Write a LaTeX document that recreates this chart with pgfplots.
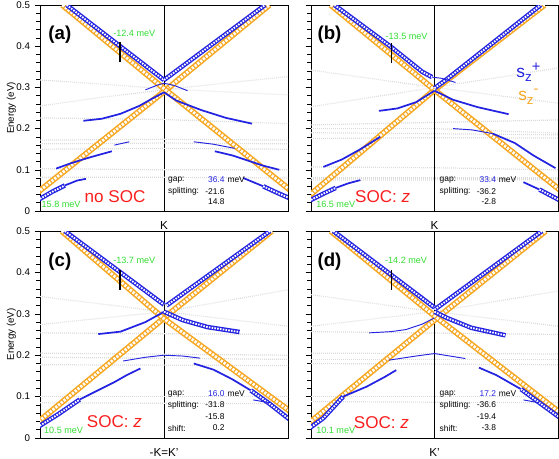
\documentclass[border=0pt]{standalone}
\usepackage{pgfplots}
\pgfplotsset{compat=1.18}
\usepackage{fontspec}
\setmainfont{Liberation Sans}
\definecolor{orng}{RGB}{247,168,35}
\definecolor{bblue}{RGB}{35,35,225}
\definecolor{grn}{RGB}{50,220,50}
\definecolor{rd}{RGB}{250,30,30}
\definecolor{gryband}{RGB}{218,218,218}
\newcommand{\smallt}{\fontsize{6.3}{7}\selectfont}
\newcommand{\greenf}{\fontsize{6.8}{7}\selectfont}
\newcommand{\socf}{\fontsize{12.8}{13}\selectfont}
\newcommand{\lblf}{\fontsize{14}{14}\selectfont\bfseries}
\tikzset{
 lbl/.style={font=\lblf},
 grt/.style={font=\greenf, text=grn},
 soct/.style={font=\socf, text=rd},
}
\pgfplotsset{
 panel/.style={scale only axis, width=186pt, height=154.5pt, xmin=-1, xmax=1, ymin=0, ymax=0.5,
   xtick={0}, major x tick style={draw=none},
   x tick label style={font=\fontsize{8.7}{9}\selectfont},
   ytick={0,0.1,0.2,0.3,0.4,0.5}, minor y tick num=4, ytick pos=left, tick align=outside,
   major tick length=4pt, minor tick length=3pt,
   /pgf/number format/assume math mode=true, /pgf/number format/fixed,
   y tick label style={font=\fontsize{7.3}{8}\selectfont},
   axis line style={line width=0.6pt}, tick style={line width=0.45pt, black},
   anchor=south west,
   every axis y label/.style={at={(axis description cs:-0.115,0.5)}, anchor=center, rotate=90, font=\fontsize{7.3}{8}\selectfont}},
 oring/.style={draw=orng, line width=4.4pt, postaction={draw=white, line width=2.1pt, dash pattern=on 1.7pt off 1.0pt}},
 bring/.style={draw=bblue, line width=3.4pt, postaction={draw=white, line width=1.4pt, dash pattern=on 1.2pt off 0.9pt}},
 bmed/.style={draw=bblue, line width=1.3pt},
 bthin/.style={draw=bblue, line width=0.7pt},
 gb/.style={draw=gryband, line width=0.9pt, dash pattern=on 0.6pt off 0.9pt},
 kline/.style={draw=black, line width=0.6pt},
}
\begin{document}
\begin{tikzpicture}
\useasboundingbox (0,0) rectangle (419.25pt,343.5pt);
% ---------------- (a)
\begin{axis}[panel, at={(30pt,185.25pt)}, xticklabels={K}, ylabel={Energy (eV)}]
\addplot[kline] coordinates {(0,0) (0,0.5)};
\addplot[gb] coordinates {(-1,0.318) (-0.5,0.308) (0,0.297) (0.5,0.289) (1,0.282)};
\addplot[gb] coordinates {(-1,0.255) (-0.5,0.276) (0,0.294) (0.5,0.311) (1,0.326)};
\addplot[gb] coordinates {(-1,0.226) (0,0.222) (1,0.212)};
\addplot[gb] coordinates {(-1,0.172) (0,0.174) (1,0.172)};
\addplot[gb] coordinates {(-1,0.163) (0,0.165) (1,0.163)};
\addplot[gb] coordinates {(-1,0.150) (0,0.152) (1,0.150)};
\addplot[gb] coordinates {(-1,0.103) (0,0.100) (1,0.100)};
\addplot[gb] coordinates {(-1,0.082) (0,0.082) (1,0.080)};
\addplot[oring] coordinates {(-1.02,0.045) (0,0.290) (0.85,0.5)};
\addplot[oring] coordinates {(-0.82,0.5) (0,0.297) (1.02,0.05)};
\addplot[bring] coordinates {(-0.785,0.5) (0,0.318)};
\addplot[bring] coordinates {(0,0.318) (0.815,0.5)};
\addplot[bthin] coordinates {(-0.15,0.294) (-0.05,0.306) (0,0.31) (0.08,0.305) (0.19,0.292)};
\addplot[bmed] coordinates {(-0.65,0.219) (-0.5,0.224) (-0.35,0.236) (-0.2,0.255) (-0.1,0.272) (0,0.288)};
\addplot[bmed] coordinates {(0,0.288) (0.1,0.268) (0.3,0.245) (0.5,0.226) (0.71,0.212)};
\addplot[bring] coordinates {(-1.02,0.026) (-0.9,0.047) (-0.8,0.062)};
\addplot[bmed] coordinates {(-0.8,0.062) (-0.7,0.074) (-0.63,0.078)};
\addplot[bmed] coordinates {(0.64,0.08) (0.8,0.06)};
\addplot[bring] coordinates {(0.8,0.06) (0.9,0.046) (1.02,0.03)};
\addplot[bmed] coordinates {(-0.87,0.103) (-0.75,0.116) (-0.6,0.130) (-0.42,0.145)};
\addplot[bmed] coordinates {(0.41,0.145) (0.55,0.135) (0.7,0.120) (0.8,0.110) (0.93,0.100)};
\addplot[bthin] coordinates {(-0.4,0.160) (-0.28,0.168)};
\addplot[bthin] coordinates {(0.24,0.168) (0.4,0.162) (0.57,0.152)};
\addplot[black, line width=0.8pt] coordinates {(-0.355,0.362) (-0.355,0.41)};
\node[lbl] at (axis cs:-0.84,0.427) {(a)};
\node[grt] at (axis cs:-0.24,0.432) {-12.4 meV};
\node[soct] at (axis cs:-0.395,0.036) {no SOC};
\node[grt] at (axis cs:-0.83,0.017) {15.8 meV};
\begin{scope}[every node/.style={inner sep=0pt, font=\smallt}]
\node[anchor=west] at (axis cs:0.032,0.075) {gap:};
\node[anchor=east, text=bblue] at (axis cs:0.49,0.075) {36.4};
\node[anchor=west] at (axis cs:0.51,0.075) {meV};
\node[anchor=west] at (axis cs:0.032,0.047) {splitting:};
\node[anchor=east] at (axis cs:0.49,0.047) {-21.6};
\node[anchor=east] at (axis cs:0.49,0.0226) {14.8};
\end{scope}
\end{axis}
% ---------------- (b)
\begin{axis}[panel, at={(233.25pt,185.25pt)}, width=185.25pt, xticklabels={K}, yticklabels={}]
\addplot[kline] coordinates {(0,0) (0,0.5)};
\addplot[gb] coordinates {(-1,0.342) (0,0.300) (1,0.262)};
\addplot[gb] coordinates {(-1,0.253) (0,0.300) (1,0.347)};
\addplot[gb] coordinates {(-1,0.209) (0,0.215) (1,0.221)};
\addplot[gb] coordinates {(-1,0.200) (0,0.200) (1,0.189)};
\addplot[gb] coordinates {(-1,0.190) (1,0.185)};
\addplot[gb] coordinates {(-1,0.176) (0,0.178) (1,0.177)};
\addplot[gb] coordinates {(-1,0.107) (0,0.105) (1,0.100)};
\addplot[gb] coordinates {(-1,0.080) (1,0.080)};
\addplot[gb] coordinates {(-1,0.075) (1,0.076)};
\addplot[oring] coordinates {(-1.02,0.036) (0,0.294) (0.89,0.5)};
\addplot[oring] coordinates {(-0.84,0.5) (0,0.294) (1.02,0.05)};
\addplot[bring] coordinates {(-0.81,0.5) (-0.35,0.398) (-0.1,0.338) (-0.02,0.325)};
\addplot[bring] coordinates {(0,0.298) (0.1,0.320) (0.86,0.5)};
\addplot[bthin] coordinates {(-0.02,0.325) (0.06,0.322) (0.17,0.312)};
\addplot[bmed] coordinates {(-0.45,0.243) (-0.3,0.249) (-0.15,0.264) (0,0.292)};
\addplot[bmed] coordinates {(0,0.292) (0.15,0.270) (0.35,0.252) (0.6,0.235)};
\addplot[bring] coordinates {(-1.02,0.024) (-0.9,0.042) (-0.8,0.056)};
\addplot[bmed] coordinates {(-0.8,0.056) (-0.7,0.067) (-0.6,0.075)};
\addplot[bmed] coordinates {(-0.9,0.107) (-0.75,0.125) (-0.6,0.150) (-0.44,0.180)};
\addplot[bthin] coordinates {(0.15,0.200) (0.3,0.197) (0.47,0.188)};
\addplot[bmed] coordinates {(0.47,0.188) (0.65,0.165) (0.8,0.135) (0.98,0.104)};
\addplot[bmed] coordinates {(0.72,0.070) (0.85,0.052)};
\addplot[bring] coordinates {(0.85,0.052) (1.02,0.025)};
\addplot[black, line width=0.8pt] coordinates {(-0.35,0.359) (-0.35,0.408)};
\node[lbl] at (axis cs:-0.85,0.427) {(b)};
\node[grt] at (axis cs:-0.226,0.425) {-13.5 meV};
\node[soct] at (axis cs:-0.42,0.036) {SOC: \textit{z}};
\node[grt] at (axis cs:-0.8,0.017) {16.5 meV};
\node[text=bblue, font=\fontsize{13}{13}\selectfont] at (axis cs:0.76,0.337) {s\raisebox{-0.45ex}{\fontsize{10}{10}\selectfont z}\raisebox{0.7ex}{\fontsize{11}{11}\selectfont +}};
\node[text=orng, font=\fontsize{13}{13}\selectfont] at (axis cs:0.76,0.277) {s\raisebox{-0.45ex}{\fontsize{10}{10}\selectfont z}\raisebox{0.7ex}{\fontsize{11}{11}\selectfont -}};
\begin{scope}[every node/.style={inner sep=0pt, font=\smallt}]
\node[anchor=west] at (axis cs:0.04,0.075) {gap:};
\node[anchor=east, text=bblue] at (axis cs:0.5,0.075) {33.4};
\node[anchor=west] at (axis cs:0.52,0.075) {meV};
\node[anchor=west] at (axis cs:0.04,0.047) {splitting:};
\node[anchor=east] at (axis cs:0.5,0.047) {-36.2};
\node[anchor=east] at (axis cs:0.5,0.0226) {-2.8};
\end{scope}
\end{axis}
% ---------------- (c)
\begin{axis}[panel, at={(30pt,15pt)}, height=155.25pt, xticklabels={-K=K'}, ylabel={Energy (eV)}]
\addplot[kline] coordinates {(0,0) (0,0.5)};
\addplot[gb] coordinates {(-1,0.342) (0,0.305) (1,0.270)};
\addplot[gb] coordinates {(-1,0.274) (0,0.305) (1,0.358)};
\addplot[gb] coordinates {(-1,0.254) (1,0.250)};
\addplot[gb] coordinates {(-1,0.205) (1,0.200)};
\addplot[gb] coordinates {(-1,0.195) (1,0.190)};
\addplot[gb] coordinates {(-1,0.177) (1,0.175)};
\addplot[gb] coordinates {(-1,0.100) (1,0.100)};
\addplot[gb] coordinates {(-1,0.085) (1,0.083)};
\addplot[oring] coordinates {(-1.01,0.04) (0,0.290) (0.87,0.5)};
\addplot[oring] coordinates {(-0.825,0.5) (0,0.288) (1.02,0.064)};
\addplot[bring] coordinates {(-0.8,0.5) (0,0.322)};
\addplot[bring] coordinates {(0.02,0.320) (0.855,0.5)};
\addplot[bmed] coordinates {(-0.53,0.251) (-0.35,0.257) (-0.15,0.280) (0,0.305)};
\addplot[bring] coordinates {(0,0.305) (0.15,0.285) (0.35,0.268) (0.61,0.256)};
\addplot[bring] coordinates {(-1.02,0.026) (-0.85,0.058) (-0.68,0.093)};
\addplot[bmed] coordinates {(-0.68,0.093) (-0.52,0.117) (-0.4,0.135) (-0.3,0.152) (-0.19,0.168)};
\addplot[bthin] coordinates {(-0.33,0.186) (-0.15,0.195) (0,0.200) (0.15,0.198) (0.29,0.193)};
\addplot[bmed] coordinates {(0.24,0.180) (0.4,0.165) (0.55,0.142) (0.7,0.115)};
\addplot[bring] coordinates {(0.7,0.115) (0.85,0.083) (1.02,0.043)};
\addplot[bthin] coordinates {(0.72,0.092) (0.855,0.085)};
\addplot[black, line width=0.8pt] coordinates {(-0.355,0.358) (-0.355,0.407)};
\node[lbl] at (axis cs:-0.84,0.427) {(c)};
\node[grt] at (axis cs:-0.24,0.428) {-13.7 meV};
\node[soct] at (axis cs:-0.4,0.040) {SOC: \textit{z}};
\node[grt] at (axis cs:-0.81,0.0185) {10.5 meV};
\begin{scope}[every node/.style={inner sep=0pt, font=\smallt}]
\node[anchor=west] at (axis cs:0.03,0.107) {gap:};
\node[anchor=east, text=bblue] at (axis cs:0.49,0.107) {16.0};
\node[anchor=west] at (axis cs:0.51,0.107) {meV};
\node[anchor=west] at (axis cs:0.03,0.080) {splitting:};
\node[anchor=east] at (axis cs:0.49,0.080) {-31.8};
\node[anchor=east] at (axis cs:0.49,0.052) {-15.8};
\node[anchor=west] at (axis cs:0.03,0.024) {shift:};
\node[anchor=east] at (axis cs:0.49,0.024) {0.2};
\end{scope}
\end{axis}
% ---------------- (d)
\begin{axis}[panel, at={(233.25pt,15pt)}, width=185.25pt, height=155.25pt, xticklabels={K'}, yticklabels={}]
\addplot[kline] coordinates {(0,0) (0,0.5)};
\addplot[gb] coordinates {(-1,0.346) (0,0.305) (1,0.270)};
\addplot[gb] coordinates {(-1,0.270) (0,0.305) (1,0.355)};
\addplot[gb] coordinates {(-1,0.257) (1,0.250)};
\addplot[gb] coordinates {(-1,0.205) (1,0.203)};
\addplot[gb] coordinates {(-1,0.190) (1,0.190)};
\addplot[gb] coordinates {(-1,0.180) (1,0.177)};
\addplot[gb] coordinates {(-1,0.100) (1,0.100)};
\addplot[gb] coordinates {(-1,0.088) (1,0.085)};
\addplot[oring] coordinates {(-1.02,0.035) (0,0.285) (0.9,0.5)};
\addplot[oring] coordinates {(-0.84,0.5) (0,0.295) (1.02,0.06)};
\addplot[bring] coordinates {(-0.82,0.5) (0,0.315)};
\addplot[bring] coordinates {(0,0.310) (0.87,0.5)};
\addplot[bthin] coordinates {(-0.53,0.254) (-0.35,0.257) (-0.23,0.262) (-0.1,0.275) (0,0.290)};
\addplot[bring] coordinates {(0,0.305) (0.1,0.290) (0.3,0.266) (0.575,0.248)};
\addplot[bring] coordinates {(-1.02,0.022) (-0.9,0.048) (-0.74,0.100)};
\addplot[bmed] coordinates {(-0.74,0.100) (-0.55,0.124) (-0.4,0.148) (-0.31,0.164)};
\addplot[bthin] coordinates {(-0.37,0.188) (-0.15,0.198) (0,0.204) (0.25,0.192)};
\addplot[bmed] coordinates {(0.36,0.170) (0.5,0.152) (0.7,0.118)};
\addplot[bring] coordinates {(0.7,0.118) (0.85,0.085) (1.02,0.048)};
\addplot[bthin] coordinates {(0.72,0.092) (0.85,0.085)};
\addplot[black, line width=0.8pt] coordinates {(-0.35,0.358) (-0.35,0.407)};
\node[lbl] at (axis cs:-0.85,0.427) {(d)};
\node[grt] at (axis cs:-0.23,0.428) {-14.2 meV};
\node[soct] at (axis cs:-0.43,0.036) {SOC: \textit{z}};
\node[grt] at (axis cs:-0.8,0.0185) {10.1 meV};
\begin{scope}[every node/.style={inner sep=0pt, font=\smallt}]
\node[anchor=west] at (axis cs:0.04,0.107) {gap:};
\node[anchor=east, text=bblue] at (axis cs:0.5,0.107) {17.2};
\node[anchor=west] at (axis cs:0.52,0.107) {meV};
\node[anchor=west] at (axis cs:0.04,0.080) {splitting:};
\node[anchor=east] at (axis cs:0.5,0.080) {-36.6};
\node[anchor=east] at (axis cs:0.5,0.052) {-19.4};
\node[anchor=west] at (axis cs:0.04,0.024) {shift:};
\node[anchor=east] at (axis cs:0.5,0.024) {-3.8};
\end{scope}
\end{axis}
\end{tikzpicture}
\end{document}
